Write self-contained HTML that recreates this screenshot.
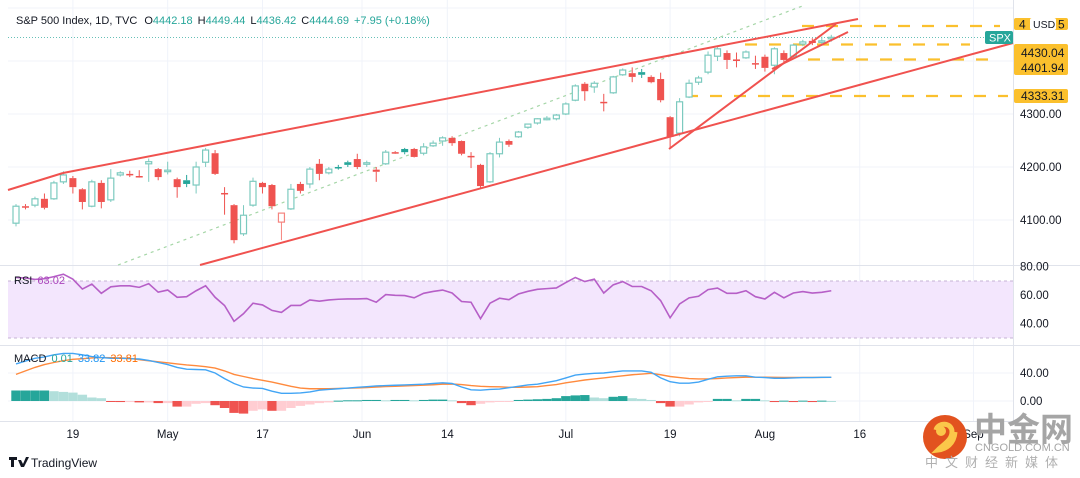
<!DOCTYPE html>
<html><head><meta charset="utf-8">
<style>
html,body{margin:0;padding:0;background:#fff;}
svg{display:block;font-family:"Liberation Sans","Noto Sans CJK SC",sans-serif;}
</style></head>
<body>
<svg id="chart" width="1080" height="478" viewBox="0 0 1080 478" xmlns="http://www.w3.org/2000/svg">
<rect width="1080" height="478" fill="#fff"/>
<g id="grid"></g>
<g id="rsiBand">
  <rect x="8" y="281" width="1005" height="57" fill="#f3e6fd"/>
  <line x1="8" y1="281" x2="1013" y2="281" stroke="#c6b3d4" stroke-dasharray="3,3" stroke-width="1"/>
  <line x1="8" y1="338" x2="1013" y2="338" stroke="#c6b3d4" stroke-dasharray="3,3" stroke-width="1"/>
</g>
<line x1="0" y1="265.5" x2="1080" y2="265.5" stroke="#e0e3eb"/>
<line x1="0" y1="345.5" x2="1080" y2="345.5" stroke="#e0e3eb"/>
<line x1="0" y1="421.5" x2="1013" y2="421.5" stroke="#e0e3eb"/>
<line x1="1013.5" y1="0" x2="1013.5" y2="421" stroke="#e0e3eb"/>
<line x1="8" y1="37.5" x2="1013" y2="37.5" stroke="#26a69a" stroke-dasharray="1,2" stroke-width="1" opacity="0.7"/>
<line x1="118" y1="265" x2="805" y2="5" stroke="#a5d6a7" stroke-dasharray="3,4" stroke-width="1.2"/>
<g id="hlines">
  <line x1="802" y1="26" x2="1000" y2="26" stroke="#fbc02d" stroke-width="2.2" stroke-dasharray="12,12"/>
  <line x1="745" y1="44.5" x2="970" y2="44.5" stroke="#fbc02d" stroke-width="2.2" stroke-dasharray="12,12"/>
  <line x1="808" y1="59.5" x2="1000" y2="59.5" stroke="#fbc02d" stroke-width="2.2" stroke-dasharray="12,12"/>
  <line x1="686" y1="96" x2="1008" y2="96" stroke="#fbc02d" stroke-width="2.2" stroke-dasharray="12,12"/>
</g>
<g id="candles"></g>
<g id="trend" stroke="#f0524f" stroke-width="2" fill="none">
  <line x1="8" y1="190" x2="63" y2="173"/>
  <line x1="63" y1="173" x2="858" y2="19"/>
  <line x1="200" y1="265" x2="1013" y2="43"/>
  <line x1="669" y1="149" x2="836" y2="24"/>
  <line x1="772" y1="69" x2="848" y2="32"/>
</g>
<g id="rsi"></g>
<g id="macd"></g>
<g id="axes" font-size="11.5" fill="#131722"></g>

<text x="16" y="24" font-size="11" fill="#131722">S&amp;P 500 Index, 1D, TVC <tspan fill="#131722" dx="4">O</tspan><tspan fill="#26a69a">4442.18</tspan><tspan dx="5">H</tspan><tspan fill="#26a69a">4449.44</tspan><tspan dx="5">L</tspan><tspan fill="#26a69a">4436.42</tspan><tspan dx="5">C</tspan><tspan fill="#26a69a">4444.69</tspan><tspan dx="5" fill="#26a69a">+7.95 (+0.18%)</tspan></text>
<text x="14" y="284" font-size="11" fill="#131722">RSI <tspan fill="#ab47bc" dx="2">63.02</tspan></text>
<text x="14" y="362" font-size="11" fill="#131722">MACD <tspan fill="#26a69a" dx="2">0.01</tspan><tspan fill="#2196f3" dx="5">33.82</tspan><tspan fill="#ff6d00" dx="5">33.81</tspan></text>

<g font-size="12" fill="#131722">
  <rect x="1014" y="18" width="54" height="12" rx="2" fill="#fbc02d"/>
  <text x="1019" y="28.5">4</text><text x="1058" y="28.5">5</text>
  <rect x="1030" y="18" width="26" height="12" rx="2" fill="#fff"/>
  <text x="1033" y="28" font-size="10.5">USD</text>
  <rect x="985" y="31" width="28" height="13" rx="2" fill="#26a69a"/>
  <text x="989" y="41.5" font-size="11" fill="#fff">SPX</text>
  <rect x="1014" y="44" width="54" height="31" rx="2" fill="#fbc02d"/>
  <text x="1021" y="57">4430.04</text>
  <text x="1021" y="72">4401.94</text>
  <rect x="1014" y="89" width="54" height="14" rx="2" fill="#fbc02d"/>
  <text x="1021" y="100">4333.31</text>
</g>

<g>
  <path d="M9 457h8v3h-3v7h-3v-7h-2z M18 460h3l2 4l3-7h3l-5 10h-3z" fill="#131722"/>
  <text x="31" y="467" font-size="12" fill="#131722">TradingView</text>
</g>
<g>
  <circle cx="945" cy="437" r="22" fill="#e2521f"/>
  <path d="M936 430c2-8 16-8 16 2c0 8-8 12-14 18c8-1 16-6 17-18" stroke="#fbc74a" stroke-width="5" fill="none"/>
  <circle cx="941" cy="431" r="5" fill="#fbc74a"/>
  <text x="974" y="441" font-size="33" font-weight="bold" fill="#a5a5a5" font-family="'Noto Sans CJK SC',sans-serif">中金网</text>
  <text x="975" y="451" font-size="11" fill="#a5a5a5">CNGOLD.COM.CN</text>
  <text x="925" y="467" font-size="13" fill="#b0b0b0" letter-spacing="7" font-family="'Noto Sans CJK SC',sans-serif">中文财经新媒体</text>
</g>
</svg>
<script>
const opens=[4094,4126,4128,4140,4140,4172,4179,4158,4126,4170,4138,4185,4187,4183,4206,4196,4192,4177,4175,4166,4209,4226,4151,4128,4074,4128,4170,4166,4096,4121,4168,4168,4206,4189,4200,4209,4215,4206,4195,4206,4228,4234,4234,4226,4240,4249,4255,4249,4221,4204,4172,4225,4249,4257,4275,4283,4291,4291,4300,4326,4357,4351,4323,4340,4374,4377,4379,4370,4366,4294,4264,4332,4360,4379,4409,4415,4403,4406,4396,4408,4392,4415,4409,4432,4438,4437,4442.18];
const highs=[4130,4130,4144,4150,4174,4192,4183,4160,4176,4175,4196,4192,4193,4194,4216,4198,4210,4180,4185,4210,4236,4232,4162,4130,4128,4180,4172,4168,4113,4168,4172,4200,4215,4200,4204,4212,4225,4212,4200,4232,4230,4236,4236,4245,4250,4258,4258,4250,4228,4206,4228,4255,4252,4268,4282,4292,4296,4300,4322,4356,4360,4362,4338,4372,4386,4388,4385,4373,4378,4296,4330,4365,4372,4418,4426,4420,4416,4420,4410,4412,4426,4420,4432,4440,4443,4446,4449.44];
const lows=[4088,4120,4124,4120,4138,4168,4150,4120,4124,4122,4134,4182,4181,4180,4172,4175,4186,4142,4162,4150,4200,4185,4110,4056,4070,4125,4150,4120,4062,4119,4150,4160,4175,4186,4195,4200,4196,4200,4172,4204,4225,4224,4218,4222,4238,4240,4240,4222,4198,4160,4170,4218,4238,4255,4272,4280,4288,4288,4298,4324,4325,4340,4305,4338,4372,4360,4368,4358,4322,4236,4258,4330,4355,4375,4400,4385,4388,4404,4385,4380,4375,4398,4405,4428,4430,4432,4436.42];
const closes=[4126,4124,4140,4123,4170,4185,4162,4134,4172,4134,4179,4189,4185,4181,4210,4181,4194,4162,4168,4200,4232,4187,4149,4062,4109,4173,4162,4126,4113,4158,4155,4196,4187,4196,4200,4204,4200,4208,4191,4228,4226,4228,4219,4238,4245,4255,4245,4225,4220,4164,4225,4247,4242,4266,4281,4291,4292,4298,4319,4353,4343,4358,4321,4370,4383,4370,4374,4360,4326,4257,4323,4358,4368,4411,4423,4402,4400,4417,4395,4387,4423,4402,4430,4436,4434,4438,4444.69];
const rsiValues=[72.4,72,71,71.5,73,74.7,71.2,64.2,67.7,61.2,65.8,66.5,66.5,65.4,68,62,63.5,58.4,58.8,63,66.5,58.4,52.6,41.4,46.8,54.2,53,49.1,47.7,52.6,52.6,56.5,55.6,56.5,57,57.2,57.2,57.5,54.9,60.3,59.8,59.6,58,61.2,62.5,63.5,61.4,55.4,54.9,43.3,54.2,57.7,56.7,60.7,62.6,64,64.5,65,68.8,72.4,69.5,71.2,61.4,67.2,69.5,66,66,63,56,43.9,53.7,58,59.1,63.8,64.9,61.2,61.2,63,58.8,57.2,61.9,58,61.4,62.4,61.4,61.9,63.02];
const macdValues=[53,57,61,63,66,68,68,66,63.5,62,61,61,60.5,60,58,55,52,48,45.5,45,44.5,40,32,25,20,18.5,18,14,11,11,11.5,13,15.5,16.5,17.5,18.5,19.5,20.5,21.5,22,22.5,23,23.5,24,25,26,25,20,16,15.5,16.5,17,19,21,23,24,26.5,29,33,37,38.5,39.5,40,41.5,43,43,43,41,33,27.5,25.5,25.5,27,31,34.5,35.5,36,36,34,33.5,32.5,32.5,33,33.5,33.5,33.8,33.82];
const signalValues=[38,43,48,52,55,57.6,59.5,60.5,61.5,62,61.8,61.5,61,59,57.5,56,54.5,53,51.5,50.5,49,47,43,38,35,32,29.5,27,24,21,18.5,17.5,17.5,17.5,18,18.3,18.7,19.2,20,20.6,21,21.5,22,22.6,23.2,24,24.3,23.5,22,21,20.5,20.2,19.5,19.5,20,20.5,22,23.5,26,28,30,31.5,33,34.5,36,37.5,38.5,39.5,37.5,35,33.5,32,31.5,31.5,32,33,33.5,34,34,34,33.8,33.7,33.6,33.6,33.6,33.7,33.81];
const histValues=[15,15,15,15,14,13,12,9,5,4,-1,-1.5,-1.5,-2,-2,-3,-3,-8,-8,-4,-3,-6,-10,-17,-18,-14,-12,-14,-14,-10,-7,-5,-3,-2,0.5,1,1,1.5,1.5,1,1.5,1.5,1,1.5,2,2,1,-3,-6,-4,-2,-1,-0.5,1.5,2,2.5,3,4,7,8,8.5,5,4,6,7,4,3,1.5,-3,-8,-8,-5,-2,-1,3,3,1,3,3,1,-1.5,0.5,-1.5,0.5,-1.5,0.5,0.01];
const timeLabels=["19","May","17","Jun","14","Jul","19","Aug","16","Sep"];
const timeIndex=[6,16,26,36.5,45.5,58,69,79,89,101];
const priceTicks=[4100,4200,4300];
const rsiTicks=[80,60,40];
const macdTicks=[40,0];

const NS="http://www.w3.org/2000/svg";
function mk(tag,attrs,parent){const e=document.createElementNS(NS,tag);for(const k in attrs)e.setAttribute(k,attrs[k]);parent.appendChild(e);return e;}
const xOf=i=>16+i*9.48;
const yP=p=>114-(p-4300)*0.53;
const yR=v=>295-(v-60)*1.415;
const yM=v=>401-v*0.7;

const grid=document.getElementById('grid');
timeIndex.forEach(i=>{const l=mk('line',{x1:xOf(i),x2:xOf(i),y1:0,y2:421,stroke:'#f0f3fa'},grid);

});
[4100,4200,4300,4400,4500].forEach(p=>{const l=mk('line',{x1:8,x2:1013,y1:yP(p),y2:yP(p),stroke:'#f0f3fa'},grid);

});
[60,40].forEach(v=>{const l=mk('line',{x1:8,x2:1013,y1:yR(v),y2:yR(v),stroke:'#ebe3f2'},grid);

});
[40,0].forEach(v=>{const l=mk('line',{x1:8,x2:1013,y1:yM(v),y2:yM(v),stroke:'#f0f3fa'},grid);

});

const cg=document.getElementById('candles');
for(let i=0;i<closes.length;i++){
  const o=opens[i],c=closes[i],h=highs[i],lo=lows[i];
  const prev=i>0?closes[i-1]:o;
  const up=c>=prev;
  const col=up?'#26a69a':'#ef5350';
  const soft=up?'#7ccabf':'#f5847f';
  const hollow=c>o;
  const x=xOf(i);
  const top=yP(Math.max(o,c)),bot=yP(Math.min(o,c));
  const g=mk('g',{},cg);
  
  
  mk('line',{x1:x,x2:x,y1:yP(h),y2:top,stroke:hollow?soft:col,'stroke-width':1},g);
  mk('line',{x1:x,x2:x,y1:bot,y2:yP(lo),stroke:hollow?soft:col,'stroke-width':1},g);
  const hgt=Math.max(bot-top,1.5);
  if(hollow) mk('rect',{x:x-3,y:top,width:6,height:hgt,fill:'#fff',stroke:soft,'stroke-width':1.2},g);
  else mk('rect',{x:x-3.5,y:top,width:7,height:hgt,fill:col},g);
}

const rg=document.getElementById('rsi');
const rp=mk('polyline',{points:rsiValues.map((v,i)=>xOf(i)+','+yR(v)).join(' '),fill:'none',stroke:'#b65fc7','stroke-width':1.6},rg);



const mg=document.getElementById('macd');
for(let i=0;i<histValues.length;i++){
  const h=histValues[i];
  const ph=i>0?histValues[i-1]:h;
  let col;
  if(h>=0) col=h>=ph?'#26a69a':'#b2dfdb'; else col=h<ph?'#ef5350':'#ffcdd2';
  const y0=yM(0),y1=yM(h);
  const r=mk('rect',{x:xOf(i)-4.7,y:Math.min(y0,y1),width:9.4,height:Math.max(Math.abs(y1-y0),1),fill:col},mg);
  
  
}
const sl=mk('polyline',{points:signalValues.map((v,i)=>xOf(i)+','+yM(v)).join(' '),fill:'none',stroke:'#ff8a3d','stroke-width':1.4},mg);


const ml=mk('polyline',{points:macdValues.map((v,i)=>xOf(i)+','+yM(v)).join(' '),fill:'none',stroke:'#42a5f5','stroke-width':1.4},mg);



const ax=document.getElementById('axes');
timeLabels.forEach((t,k)=>{const e=mk('text',{x:xOf(timeIndex[k]),y:438,'text-anchor':'middle'},ax);e.textContent=t;

});
priceTicks.forEach(p=>{const e=mk('text',{x:1020,y:yP(p)+4},ax);e.textContent=p.toFixed(2);

});
rsiTicks.forEach(v=>{const e=mk('text',{x:1020,y:yR(v)+4},ax);e.textContent=v.toFixed(2);

});
macdTicks.forEach(v=>{const e=mk('text',{x:1020,y:yM(v)+4},ax);e.textContent=v.toFixed(2);

});
</script>
</body></html>
